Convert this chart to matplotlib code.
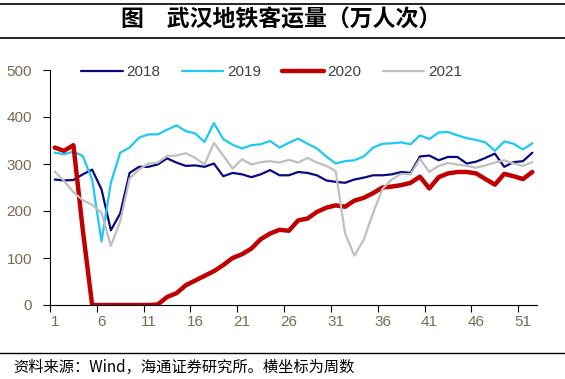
import matplotlib
matplotlib.use('Agg')
import matplotlib.pyplot as plt
from matplotlib.lines import Line2D

# weekly passenger volume, 10k trips
weeks = list(range(1, 53))

y2018 = [267, 265, 266, 278, 288, 246, 159, 195, 281, 294,
         294, 299, 312, 303, 296, 297, 294, 301, 274, 281,
         278, 272, 278, 287, 276, 276, 283, 281, 276, 265,
         262, 260, 267, 271, 276, 276, 278, 283, 281, 316,
         318, 308, 315, 315, 301, 305, 313, 322, 294, 304,
         306, 324]

y2019 = [324, 321, 326, 317, 267, 135, 260, 324, 335, 356,
         363, 363, 373, 382, 370, 365, 347, 387, 353, 341,
         333, 340, 342, 349, 335, 345, 354, 343, 333, 316,
         301, 306, 308, 316, 335, 343, 344, 346, 342, 361,
         353, 367, 368, 361, 355, 351, 346, 328, 348, 343,
         331, 344]

y2020 = [335, 328, 340, 160, 0, 0, 0, 0, 0, 0,
         0, 1, 17, 25, 42, 52, 62, 72, 85, 100,
         108, 120, 140, 152, 160, 158, 180, 184, 198, 207,
         212, 209, 222, 228, 238, 250, 252, 255, 260, 273,
         248, 272, 280, 283, 283, 280, 268, 256, 279, 274,
         268, 283]

y2021 = [284, 264, 240, 223, 213, 196, 126, 178, 269, 288,
         301, 303, 317, 318, 323, 313, 299, 345, 318, 290,
         310, 299, 304, 306, 303, 309, 303, 313, 303, 296,
         285, 153, 105, 139, 196, 247, 267, 279, 278, 311,
         283, 296, 302, 299, 296, 292, 297, 303, 308, 301,
         296, 304]

series = [
    ('2018', y2018, '#0a0a80', 1.6),
    ('2019', y2019, '#1ec8f5', 1.6),
    ('2020', y2020, '#c00000', 3.2),
    ('2021', y2021, '#bfbfbf', 1.6),
]

tick_color = '#7a6a55'

fig = plt.figure(figsize=(5.65, 3.79), dpi=100)
ax = fig.add_axes([50 / 565, 74 / 379, 487 / 565, 235 / 379])

for name, vals, color, lw in series:
    ax.plot(weeks, vals, color=color, lw=lw, label=name,
            solid_joinstyle='round', solid_capstyle='round')

ax.set_xlim(0.5, 52.5)
ax.set_ylim(0, 500)
ax.set_yticks(range(0, 501, 100))
ax.set_xticks(range(1, 52, 5))
ax.set_xticks([0.5 + 5 * k for k in range(11)], minor=True)
ax.tick_params(axis='x', which='major', length=0, pad=7,
               labelsize=11, labelcolor=tick_color)
ax.tick_params(axis='x', which='minor', length=5, width=0.8,
               direction='out')
ax.tick_params(axis='y', length=5, width=0.8, direction='out',
               pad=8, labelsize=11, labelcolor=tick_color)
for lab in ax.get_xticklabels() + ax.get_yticklabels():
    lab.set_family('Liberation Sans')

for side in ['top', 'right']:
    ax.spines[side].set_visible(False)
for side in ['left', 'bottom']:
    ax.spines[side].set_linewidth(0.8)

leg = ax.legend(loc='center', bbox_to_anchor=(0.455, 0.99), ncol=4,
                frameon=False, handlelength=2.7, handletextpad=0.25,
                columnspacing=1.4, prop={'family': 'Liberation Sans', 'size': 11})
for t in leg.get_texts():
    t.set_color('#404040')

# title banner
fig.add_artist(Line2D([0, 1], [1 - 4 / 379, 1 - 4 / 379], color='black', lw=1.2))
fig.add_artist(Line2D([0, 1], [1 - 38 / 379, 1 - 38 / 379], color='black', lw=1.2))
fig.text(0.497, 1 - 20 / 379, '图　武汉地铁客运量（万人次）', ha='center', va='center',
         fontsize=16.5, fontweight='bold', family=['Noto Sans CJK SC', 'DejaVu Sans'])

# footer
fig.add_artist(Line2D([0, 1], [1 - 353 / 379, 1 - 353 / 379], color='black', lw=1.0))
fig.text(13 / 565, 1 - 367 / 379, '资料来源：Wind，海通证券研究所。横坐标为周数',
         ha='left', va='center', fontsize=11,
         family=['Noto Sans CJK SC', 'DejaVu Sans'])

fig.savefig('out.png', dpi=100)
